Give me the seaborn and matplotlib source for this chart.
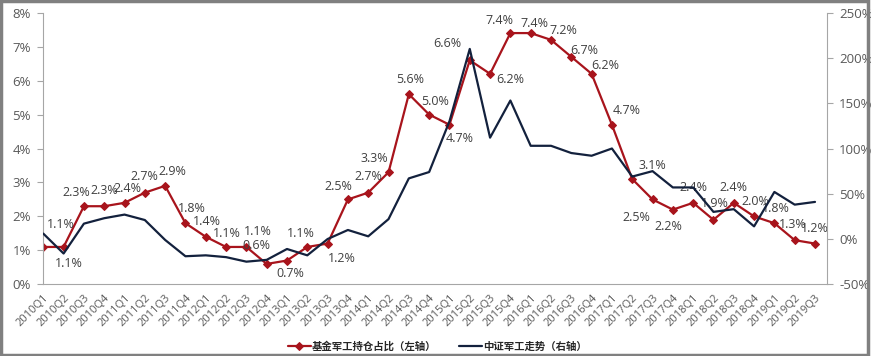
import numpy as np
import pandas as pd
import seaborn as sns
import matplotlib.pyplot as plt
from matplotlib.patches import Rectangle
from matplotlib.ticker import FuncFormatter

# quarters 2010Q1 .. 2019Q3
quarters = [f'{y}Q{q}' for y in range(2010, 2020) for q in range(1, 5)][:39]

# 基金军工持仓占比 (left axis, %)
fund_share = [1.1, 1.1, 2.3, 2.3, 2.4, 2.7, 2.9, 1.8, 1.4, 1.1, 1.1, 0.6,
              0.7, 1.1, 1.2, 2.5, 2.7, 3.3, 5.6, 5.0, 4.7, 6.6, 6.2, 7.4,
              7.4, 7.2, 6.7, 6.2, 4.7, 3.1, 2.5, 2.2, 2.4, 1.9, 2.4, 2.0,
              1.8, 1.3, 1.2]

# 中证军工走势 (right axis, %)
index_trend = [6, -16, 17, 23, 27, 21, -1, -19, -18, -20, -25, -23,
               -11, -18, 0, 10, 3, 22, 67, 74, 130, 210, 112, 153,
               103, 103, 95, 92, 100, 69, 75, 57, 57, 30, 33, 14,
               52, 38, 41]

# label offsets in pixels (dx, dy), placed like the excel chart
label_offsets = [(18, 22), (5, -17), (-8, 14), (0, 16), (3, 14), (0, 16), (7, 14),
                 (6, 15), (1, 15), (1, 13), (11, 15), (-10, 18), (3, -13),
                 (-6, 13), (14, -15), (-10, 13), (0, 16), (-14, 14), (1, 15),
                 (6, 13), (10, -14), (-22, 17), (20, -6), (-11, 13), (4, 10),
                 (12, 9), (13, 6), (14, 8), (15, 14), (20, 14), (-16, -18),
                 (-4, -17), (0, 15), (1, 16), (0, 15), (1, 15), (1, 15),
                 (-2, 16), (0, 15)]

RED = '#A8141C'
NAVY = '#13213D'
GREY = '#595959'

df = pd.DataFrame({'idx': np.arange(len(quarters)),
                   'fund': fund_share,
                   'index': index_trend})

sns.set_style('white')
plt.rcParams['font.family'] = ['Open Sans', 'Noto Sans CJK SC', 'DejaVu Sans']

fig = plt.figure(figsize=(8.71, 3.56), dpi=100)
ax = fig.add_axes([0.0497, 0.2014, 0.8993, 0.7629])
ax2 = ax.twinx()

sns.lineplot(data=df, x='idx', y='fund', ax=ax, color=RED, lw=1.6,
             marker='D', markersize=4, markeredgecolor=RED, label='基金军工持仓占比（左轴）',
             legend=False)
sns.lineplot(data=df, x='idx', y='index', ax=ax2, color=NAVY, lw=1.6,
             label='中证军工走势（右轴）', legend=False)

for i, v in enumerate(fund_share):
    dx, dy = label_offsets[i]
    ax.annotate(f'{v:.1f}%', (i, v), xytext=(dx, dy), textcoords='offset pixels',
                ha='center', va='center', fontsize=9, color='#404040')

ax.set_xlim(0, 38.57)
ax.set_ylim(0, 8)
ax2.set_ylim(-50, 250)
ax.set_yticks(range(0, 9))
ax2.set_yticks(range(-50, 251, 50))
ax.yaxis.set_major_formatter(FuncFormatter(lambda v, p: f'{v:.0f}%'))
ax2.yaxis.set_major_formatter(FuncFormatter(lambda v, p: f'{v:.0f}%'))
ax.set_xticks(df['idx'])
ax.set_xticklabels(quarters, rotation=45, ha='right', rotation_mode='anchor')
ax.set_xlabel('')
ax.set_ylabel('')
ax2.set_ylabel('')

for a in (ax, ax2):
    for s in a.spines.values():
        s.set_visible(False)
    a.tick_params(colors=GREY, labelsize=9.5, length=4, width=0.8, color='#A6A6A6')
ax.spines['left'].set_visible(True)
ax.spines['bottom'].set_visible(True)
ax2.spines['right'].set_visible(True)
for s in (ax.spines['left'], ax.spines['bottom'], ax2.spines['right']):
    s.set_color('#A6A6A6')
    s.set_linewidth(0.8)
ax.tick_params(axis='x', labelsize=8, pad=2)
ax.tick_params(axis='y', pad=5)
ax2.tick_params(axis='y', pad=5)
ax.grid(False)
ax2.grid(False)

h1, l1 = ax.get_legend_handles_labels()
h2, l2 = ax2.get_legend_handles_labels()
leg = fig.legend(h1 + h2, l1 + l2, loc='center', bbox_to_anchor=(0.502, 0.025),
                 ncol=2, frameon=False, fontsize=7.5, handlelength=2.2,
                 columnspacing=2.2, handletextpad=0.1)
for t in leg.get_texts():
    t.set_fontweight('bold')
    t.set_color('#262626')

fig.patches.append(Rectangle((0.001, 0.004), 0.996, 0.993, transform=fig.transFigure,
                             fill=False, edgecolor='#808080', lw=2.5))

fig.savefig('out.png', dpi=100)
